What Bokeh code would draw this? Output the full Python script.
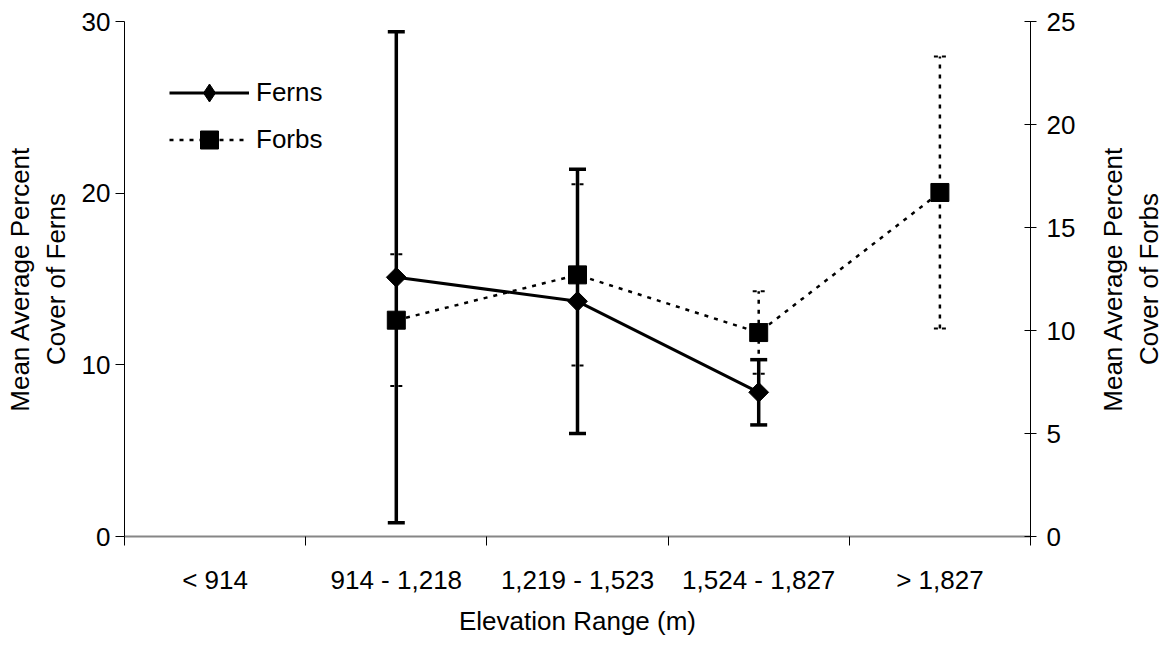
import math
from bokeh.plotting import figure
from bokeh.models import (Range1d, LinearAxis, FixedTicker, Whisker, TeeHead,
                          ColumnDataSource, Legend, LegendItem, Label)
from bokeh.embed import file_html
from bokeh.resources import INLINE

# ---- data ----
categories = ["< 914", "914 - 1,218", "1,219 - 1,523", "1,524 - 1,827", "> 1,827"]

ferns_cats = ["914 - 1,218", "1,219 - 1,523", "1,524 - 1,827"]
ferns_mean = [15.1, 13.7, 8.4]
ferns_err = [14.3, 7.7, 1.9]

forbs_cats = ["914 - 1,218", "1,219 - 1,523", "1,524 - 1,827", "> 1,827"]
forbs_mean = [10.5, 12.7, 9.9, 16.7]
forbs_err = [3.2, 4.4, 2.0, 6.6]

left_ticks = [0, 10, 20, 30]
right_ticks = [0, 5, 10, 15, 20, 25]

FONT = "Liberation Sans"
FS = "26px"

pos = {c: i + 0.5 for i, c in enumerate(categories)}

p = figure(width=1168, height=645, x_range=Range1d(0, len(categories)),
           y_range=Range1d(0, 30), output_backend="svg", toolbar_location=None,
           min_border_left=124, min_border_right=138, min_border_top=21,
           min_border_bottom=109)
p.extra_y_ranges = {"right": Range1d(0, 25)}
p.outline_line_color = None
p.xgrid.visible = False
p.ygrid.visible = False
p.background_fill_color = "white"
p.border_fill_color = "white"

# x axis
xa = p.xaxis[0]
xa.ticker = FixedTicker(ticks=[pos[c] for c in categories],
                        minor_ticks=list(range(len(categories) + 1)))
xa.major_label_overrides = {pos[c]: c for c in categories}
xa.major_tick_line_color = None
xa.major_tick_out = 9
xa.major_tick_in = 0
xa.minor_tick_in = 0
xa.minor_tick_out = 9
xa.minor_tick_line_color = "black"
xa.axis_line_color = "#868686"
xa.axis_line_width = 2
xa.major_label_text_font = FONT
xa.major_label_text_font_size = FS
xa.major_label_text_color = "black"
xa.major_label_standoff = 19
xa.axis_label = "Elevation Range (m)"
xa.axis_label_text_font = FONT
xa.axis_label_text_font_size = FS
xa.axis_label_text_font_style = "normal"
xa.axis_label_text_color = "black"
xa.axis_label_standoff = 8

# left axis
ya = p.yaxis[0]
ya.ticker = FixedTicker(ticks=left_ticks, minor_ticks=[])
ya.major_tick_out = 9
ya.major_tick_in = 0
ya.axis_line_color = "black"
ya.major_tick_line_color = "black"
ya.major_label_text_font = FONT
ya.major_label_text_font_size = FS
ya.major_label_text_color = "black"
ya.major_label_standoff = 5
ya.axis_label = "Mean Average Percent\nCover of Ferns"
ya.axis_label_text_font = FONT
ya.axis_label_text_font_size = FS
ya.axis_label_text_font_style = "normal"
ya.axis_label_text_color = "black"
ya.axis_label_standoff = 8

# right axis
ra = LinearAxis(y_range_name="right", ticker=FixedTicker(ticks=right_ticks, minor_ticks=[]))
ra.major_tick_out = 6
ra.major_tick_in = 6
ra.axis_line_color = "black"
ra.major_tick_line_color = "black"
ra.major_label_text_font = FONT
ra.major_label_text_font_size = FS
ra.major_label_text_color = "black"
ra.major_label_standoff = 10
p.add_layout(ra, "right")

# right axis title, reading bottom-to-top like the left one
rt = Label(x=52, y=257.5, x_units="screen", y_units="screen",
           text="Mean Average Percent\nCover of Forbs", angle=math.pi / 2,
           text_align="center", text_baseline="middle",
           text_font=FONT, text_font_size=FS, text_color="black")
p.add_layout(rt, "right")

# sources
fx = [pos[c] for c in ferns_cats]
ferns_src = ColumnDataSource(dict(
    x=fx, y=ferns_mean,
    upper=[m + e for m, e in zip(ferns_mean, ferns_err)],
    lower=[m - e for m, e in zip(ferns_mean, ferns_err)]))
bx = [pos[c] for c in forbs_cats]
forbs_src = ColumnDataSource(dict(
    x=bx, y=forbs_mean,
    upper=[m + e for m, e in zip(forbs_mean, forbs_err)],
    lower=[m - e for m, e in zip(forbs_mean, forbs_err)]))

# forbs error bars (dotted)
fw = Whisker(source=forbs_src, base="x", upper="upper", lower="lower",
             dimension="height", y_range_name="right",
             line_color="black", line_width=2.5, line_dash="4 6",
             upper_head=TeeHead(size=12, line_width=2, line_color="black", line_dash="4 4"),
             lower_head=TeeHead(size=12, line_width=2, line_color="black", line_dash="4 4"))
p.add_layout(fw)

# ferns error bars (solid)
ew = Whisker(source=ferns_src, base="x", upper="upper", lower="lower",
             dimension="height", line_color="black", line_width=3.5,
             upper_head=TeeHead(size=17, line_width=3.5, line_color="black"),
             lower_head=TeeHead(size=17, line_width=3.5, line_color="black"))
p.add_layout(ew)

forbs_line = p.line("x", "y", source=forbs_src, y_range_name="right",
                    line_color="black", line_width=2.5, line_dash="4 6")
forbs_mark = p.scatter("x", "y", source=forbs_src, y_range_name="right",
                       marker="square", size=18, fill_color="black", line_color="black")

ferns_line = p.line("x", "y", source=ferns_src, line_color="black", line_width=3)
# diamond used for the legend swatch (hidden under the rotated squares in the plot)
ferns_diam = p.scatter("x", "y", source=ferns_src, marker="diamond", size=18,
                       fill_color="black", line_color="black")
ferns_mark = p.scatter("x", "y", source=ferns_src, marker="square", angle=math.pi / 4,
                       size=14, fill_color="black", line_color="black")

legend = Legend(items=[LegendItem(label="Ferns", renderers=[ferns_line, ferns_diam]),
                       LegendItem(label="Forbs", renderers=[forbs_line, forbs_mark])],
                location=(45, 374), glyph_width=80, glyph_height=45, label_height=45,
                spacing=2, label_standoff=7, padding=0, margin=0,
                border_line_color=None, background_fill_alpha=0,
                label_text_font=FONT, label_text_font_size=FS, label_text_color="black")
p.add_layout(legend)

open("out.html", "w").write(file_html(p, INLINE))
